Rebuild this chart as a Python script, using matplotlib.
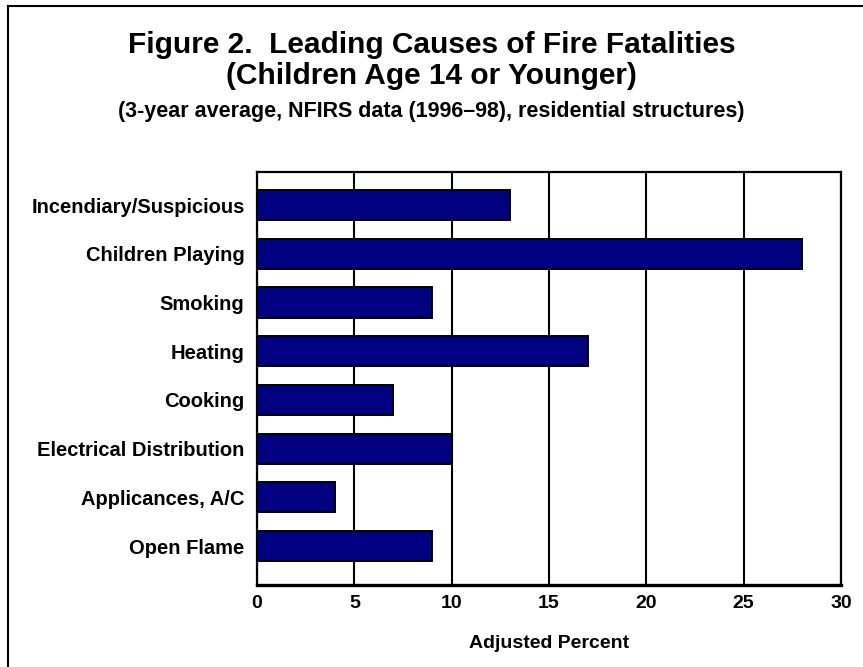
import matplotlib
matplotlib.use("Agg")
import matplotlib.pyplot as plt
from matplotlib.lines import Line2D

categories = ["Incendiary/Suspicious", "Children Playing", "Smoking", "Heating",
              "Cooking", "Electrical Distribution", "Applicances, A/C", "Open Flame"]
values = [13, 28, 9, 17, 7, 10, 4, 9]
xticks = [0, 5, 10, 15, 20, 25, 30]

plt.rcParams['font.family'] = ['Liberation Sans', 'DejaVu Sans']

W, H = 863, 667
fig = plt.figure(figsize=(W / 100, H / 100), dpi=100)
ax = fig.add_axes([257 / W, 1 - 585 / H, (841 - 257) / W, (585 - 172) / H])

ypos = list(range(len(categories)))
ax.barh(ypos, values, height=0.62, color="#000080", edgecolor="black", linewidth=1.4, zorder=3)
ax.set_xlim(0, 30)
ax.set_ylim(7.8, -0.68)
ax.set_xticks(xticks)
ax.set_xticklabels([str(t) for t in xticks], fontsize=14, fontweight="bold")
ax.set_yticks(ypos)
ax.set_yticklabels(categories, fontsize=14.5, fontweight="bold")
ax.tick_params(axis="x", length=0, pad=7)
ax.tick_params(axis="y", length=0, pad=9)
ax.xaxis.grid(True, color="black", linewidth=1.5, zorder=0)
for s in ax.spines.values():
    s.set_linewidth(1.6)
    s.set_color("black")
ax.spines["bottom"].set_linewidth(2.4)
ax.set_xlabel("Adjusted Percent", fontsize=14, fontweight="bold", labelpad=17)

fig.text(0.5, 1 - 45 / H, "Figure 2.  Leading Causes of Fire Fatalities", ha="center", va="center",
         fontsize=21.5, fontweight="bold")
fig.text(0.5, 1 - 76 / H, "(Children Age 14 or Younger)", ha="center", va="center",
         fontsize=21.5, fontweight="bold")
fig.text(0.5, 1 - 112 / H, "(3-year average, NFIRS data (1996\u201398), residential structures)",
         ha="center", va="center", fontsize=15.5, fontweight="bold")

fig.add_artist(Line2D([8 / W, 1.0], [1 - 6 / H, 1 - 6 / H], color="black", linewidth=1.5,
                      transform=fig.transFigure))
fig.add_artist(Line2D([8 / W, 8 / W], [0, 1 - 6 / H], color="black", linewidth=1.5,
                      transform=fig.transFigure))

fig.savefig("out.png", dpi=100, facecolor="white")
